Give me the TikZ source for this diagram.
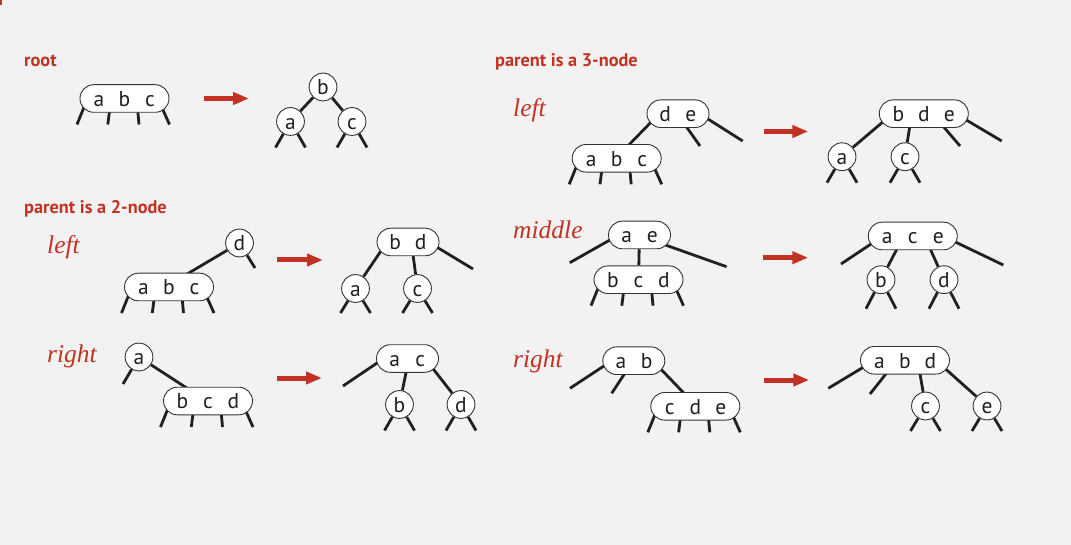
\documentclass[tikz,border=0pt]{standalone}
\usepackage{fontspec}
\setmainfont{PT Sans}
\newfontfamily\labfont{Liberation Serif}
\usetikzlibrary{calc,arrows.meta}
\definecolor{bgc}{HTML}{F2F2F2}
\definecolor{redc}{HTML}{C23222}
\definecolor{ink}{HTML}{231F20}
\definecolor{bord}{HTML}{333333}
\pgfdeclarelayer{bgl}\pgfdeclarelayer{edl}\pgfsetlayers{bgl,edl,main}
\newcommand\ks[1]{\makebox[25.5pt]{#1}}
\newcommand\legsthree[1]{%
  \draw[edge] ($(#1)+(-39,5)$) -- ($(#1)+(-47.5,26)$);
  \draw[edge] ($(#1)+(-14,5)$) -- ($(#1)+(-16.7,26)$);
  \draw[edge] ($(#1)+(12.6,5)$) -- ($(#1)+(14.5,26)$);
  \draw[edge] ($(#1)+(35.6,5)$) -- ($(#1)+(45,26)$);}
\newcommand\legstwo[2]{%
  \draw[edge] (#1) -- ($(#1)+(-15,#2)$);
  \draw[edge] (#1) -- ($(#1)+(15,#2)$);}
\tikzset{
  knode/.style={rectangle, rounded corners=13.8pt, draw=bord, line width=0.9pt, fill=white,
    minimum height=27.6pt, inner sep=0pt, text height=15.6pt, text depth=0pt,
    font=\fontsize{21.5}{24}\selectfont, text=ink},
  kthree/.style={knode, minimum width=89pt},
  ktwo/.style={knode, minimum width=62pt},
  cnode/.style={circle, draw=bord, line width=0.9pt, fill=white, minimum size=27.8pt,
    inner sep=0pt, text height=15.6pt, text depth=0pt,
    font=\fontsize{21.5}{24}\selectfont, text=ink},
  edge/.style={line width=2.8pt, draw=ink},
  bigarrow/.style={line width=5pt, draw=redc, -{Triangle[length=16pt,width=12pt]}},
  ttl/.style={anchor=base west, inner sep=0pt, text=redc, font=\bfseries\fontsize{18.3}{22}\selectfont},
  side/.style={anchor=base west, inner sep=0pt, text=redc, font=\labfont\itshape\fontsize{25.5}{30}\selectfont}
}
\begin{document}
\begin{tikzpicture}[x=1pt,y=-1pt]
\useasboundingbox (0,0) rectangle (1071,545);
\begin{pgfonlayer}{bgl}
\fill[bgc] (0,0) rectangle (1071,545);
\fill[redc] (0,0) rectangle (2,5);
\end{pgfonlayer}

% titles and side labels
\node[ttl] (t1) at (24,66.5) {root};
\node[ttl] (t2) at (24,214) {parent is a 2-node};
\node[ttl] (t3) at (495,66.5) {parent is a 3-node};
\node[side] (s1) at (47,254) {left};
\node[side] (s2) at (47,362) {right};
\node[side] (s3) at (513,117) {left};
\node[side] (s4) at (513,239) {middle};
\node[side] (s5) at (513,367) {right};

% ---------- root ----------
\node[kthree] (rABC) at (124.5,98.5) {\ks{a}\ks{b}\ks{c}};
\node[cnode] (rB) at (323,87) {b};
\node[cnode] (rA) at (290.5,121.5) {a};
\node[cnode] (rC) at (352,121.5) {c};
\coordinate (ra1) at (204,98.5); \coordinate (ra2) at (249,98.5);
\draw[bigarrow] (ra1) -- (ra2);

% ---------- 2-node left ----------
\node[cnode] (lD) at (239.5,243) {d};
\node[kthree] (lABC) at (169,287) {\ks{a}\ks{b}\ks{c}};
\node[ktwo] (lBD) at (408,242) {\ks{b}\ks{d}};
\node[cnode] (lA) at (355.5,288.5) {a};
\node[cnode] (lC) at (417.5,288.5) {c};
\coordinate (la1) at (277,260); \coordinate (la2) at (323,260);
\draw[bigarrow] (la1) -- (la2);

% ---------- 2-node right ----------
\node[cnode] (gA) at (139,357) {a};
\node[kthree] (gBCD) at (208,401) {\ks{b}\ks{c}\ks{d}};
\node[ktwo] (gAC) at (407.5,358.5) {\ks{a}\ks{c}};
\node[cnode] (gB) at (399.5,404.5) {b};
\node[cnode] (gD) at (461,404.5) {d};
\coordinate (ga1) at (277,378); \coordinate (ga2) at (322,378);
\draw[bigarrow] (ga1) -- (ga2);

% ---------- 3-node left ----------
\node[ktwo] (pDE) at (678,113.7) {\ks{d}\ks{e}};
\node[kthree] (pABC) at (616.7,158.3) {\ks{a}\ks{b}\ks{c}};
\node[kthree] (pBDE) at (923.8,113.7) {\ks{b}\ks{d}\ks{e}};
\node[cnode] (pA) at (842,156.7) {a};
\node[cnode] (pC) at (905,156.7) {c};
\coordinate (pa1) at (764,131.5); \coordinate (pa2) at (808.3,131.5);
\draw[bigarrow] (pa1) -- (pa2);

% ---------- 3-node middle ----------
\node[ktwo] (mAE) at (639.5,235) {\ks{a}\ks{e}};
\node[kthree] (mBCD) at (638.5,279.7) {\ks{b}\ks{c}\ks{d}};
\node[kthree] (mACE) at (912.8,236) {\ks{a}\ks{c}\ks{e}};
\node[cnode] (mB) at (881,279.7) {b};
\node[cnode] (mD) at (944,279.7) {d};
\coordinate (ma1) at (763.3,257.7); \coordinate (ma2) at (808.3,257.7);
\draw[bigarrow] (ma1) -- (ma2);

% ---------- 3-node right ----------
\node[ktwo] (qAB) at (633.8,360.7) {\ks{a}\ks{b}};
\node[kthree] (qCDE) at (695.3,406.3) {\ks{c}\ks{d}\ks{e}};
\node[kthree] (qABD) at (905,360.3) {\ks{a}\ks{b}\ks{d}};
\node[cnode] (qC) at (925.5,406) {c};
\node[cnode] (qE) at (987,406) {e};
\coordinate (qa1) at (764,380); \coordinate (qa2) at (809.3,380);
\draw[bigarrow] (qa1) -- (qa2);

\begin{pgfonlayer}{edl}
% root
\legsthree{rABC}
\draw[edge] (rB) -- (rA);
\draw[edge] (rB) -- (rC);
\legstwo{rA}{26}
\legstwo{rC}{26}
% 2-node left
\draw[edge] (lD) -- ($(lABC)+(8,-7)$);
\draw[edge] (lD) -- ($(lD)+(15.5,25)$);
\legsthree{lABC}
\draw[edge] ($(lBD)+(-23,3)$) -- (lA);
\draw[edge] ($(lBD)+(4,5)$) -- (lC);
\draw[edge] ($(lBD)+(22,1)$) -- ($(lBD)+(65,27)$);
\legstwo{lA}{24.5}
\legstwo{lC}{24.5}
% 2-node right
\draw[edge] (gA) -- ($(gA)+(-16,27)$);
\draw[edge] (gA) -- ($(gBCD)+(-12,-7)$);
\legsthree{gBCD}
\draw[edge] ($(gAC)+(-21.5,-1.5)$) -- ($(gAC)+(-64.5,27.5)$);
\draw[edge] ($(gAC)+(0,7)$) -- (gB);
\draw[edge] ($(gAC)+(19.5,2.5)$) -- (gD);
\legstwo{gB}{26}
\legstwo{gD}{26}
% 3-node left
\draw[edge] ($(pDE)+(-22,3.3)$) -- ($(pABC)+(6.3,-7.3)$);
\draw[edge] ($(pDE)+(5,8.3)$) -- ($(pDE)+(22,32.3)$);
\draw[edge] ($(pDE)+(22,0.3)$) -- ($(pDE)+(64.7,27.3)$);
\legsthree{pABC}
\draw[edge] ($(pBDE)+(-34,2.3)$) -- (pA);
\draw[edge] ($(pBDE)+(-13,6)$) -- (pC);
\draw[edge] ($(pBDE)+(14,6.3)$) -- ($(pBDE)+(36.2,32.3)$);
\draw[edge] ($(pBDE)+(34,1.3)$) -- ($(pBDE)+(77.9,27.3)$);
\legstwo{pA}{26}
\legstwo{pC}{26}
% 3-node middle
\draw[edge] ($(mAE)+(-21.7,0.5)$) -- ($(mAE)+(-69.7,27.7)$);
\draw[edge] (mAE) -- (mBCD);
\draw[edge] ($(mAE)+(20.3,8)$) -- ($(mAE)+(87,31.7)$);
\legsthree{mBCD}
\draw[edge] ($(mACE)+(-32.8,2)$) -- ($(mACE)+(-71.8,28)$);
\draw[edge] ($(mACE)+(-12.8,7)$) -- (mB);
\draw[edge] ($(mACE)+(15.2,8)$) -- (mD);
\draw[edge] ($(mACE)+(35.2,2.5)$) -- ($(mACE)+(90.5,29)$);
\legstwo{mB}{29}
\legstwo{mD}{29}
% 3-node right
\draw[edge] ($(qAB)+(-20.8,-0.7)$) -- ($(qAB)+(-63.8,27.6)$);
\draw[edge] ($(qAB)+(-4.8,6.3)$) -- ($(qAB)+(-22.1,32.6)$);
\draw[edge] ($(qAB)+(21.2,2.3)$) -- ($(qCDE)+(-5.8,-7.3)$);
\legsthree{qCDE}
\draw[edge] ($(qABD)+(-33,1.7)$) -- ($(qABD)+(-76.7,28)$);
\draw[edge] ($(qABD)+(-14,7.2)$) -- ($(qABD)+(-35,33.7)$);
\draw[edge] ($(qABD)+(14,7.7)$) -- (qC);
\draw[edge] ($(qABD)+(35,3.7)$) -- (qE);
\legstwo{qC}{25}
\legstwo{qE}{25}
\end{pgfonlayer}
\end{tikzpicture}
\end{document}
